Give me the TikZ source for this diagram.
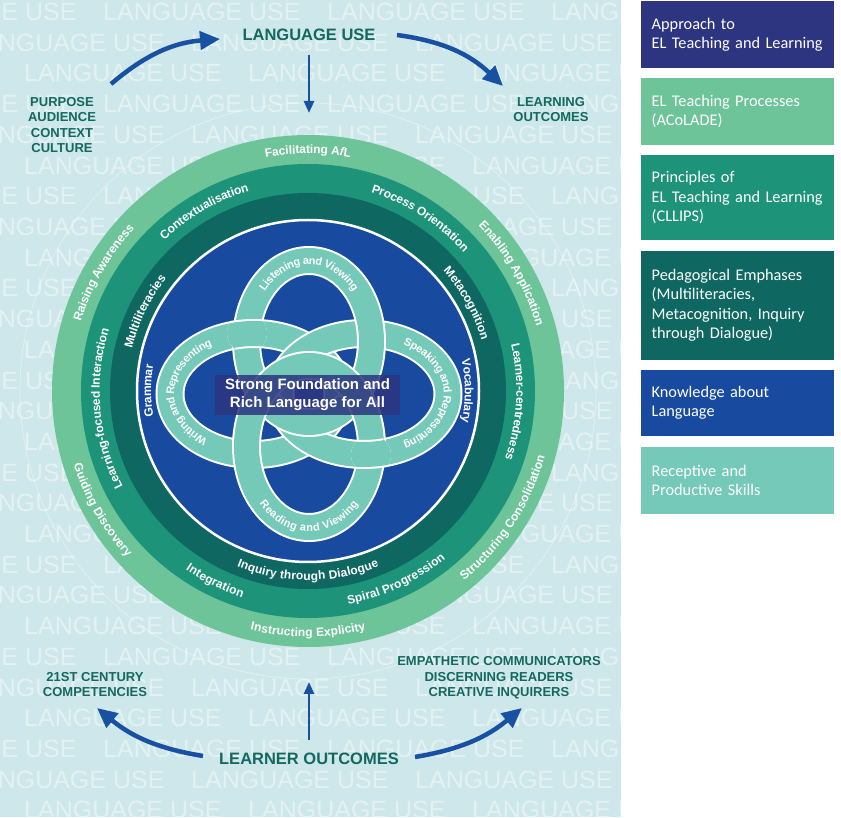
\documentclass[tikz,border=0pt]{standalone}
\usepackage{fontspec}
\setmainfont{Liberation Sans}
\newfontfamily\legendfont{Carlito}
\usetikzlibrary{arrows.meta, positioning, decorations.text}

\definecolor{panelbg}{RGB}{206, 231, 234}
\definecolor{ringlight}{RGB}{109, 196, 152}
\definecolor{ringmid}{RGB}{29, 147, 121}
\definecolor{ringdark}{RGB}{14, 103, 96}
\definecolor{discblue}{RGB}{24, 75, 160}
\definecolor{knotteal}{RGB}{117, 201, 184}
\definecolor{navy}{RGB}{45, 52, 128}
\definecolor{labelteal}{RGB}{19, 104, 96}
\definecolor{arrowblue}{RGB}{24, 80, 162}

\newcommand{\ringfont}{\bfseries\fontsize{12}{14}\selectfont}
\newcommand{\knotfont}{\bfseries\fontsize{11}{13}\selectfont}

\tikzset{
  bgword/.style={anchor=west, inner sep=0pt, text=white, text opacity=0.45, font=\fontsize{25}{25}\selectfont},
  headlbl/.style={text=labelteal, inner sep=0pt, font=\bfseries\fontsize{16.5}{18}\selectfont},
  sidelbl/.style={text=labelteal, inner sep=0pt, align=center, font=\bfseries\fontsize{13}{15.3}\selectfont},
  bigarrow/.style={draw=arrowblue, line width=4.5pt, -{Triangle[length=20pt, width=18pt]}},
  thinarrow/.style={draw=arrowblue, line width=2.5pt, -{Triangle[length=12pt, width=10pt]}},
  legbox/.style={anchor=north west, minimum width=193pt, text width=172pt, inner xsep=10.5pt, inner ysep=0pt,
    align=left, text=white, font=\legendfont\fontsize{16.3}{19.5}\selectfont},
  knotband/.style={draw=white, line width=29pt},
  knotfill/.style={draw=knotteal, line width=25pt},
  ringtext/.style={decorate, decoration={text along path, text align=center, text color=white, raise=-4.2pt, text={#1}}}
}

% text on the rings, clockwise (top) or counter-clockwise (bottom)
\newcommand{\ringcw}[3]{\path[ringtext={|\ringfont|#3}, shift={(c)}] (#1+75:#2) arc[start angle=#1+75, end angle=#1-75, radius=#2];}
\newcommand{\ringccw}[3]{\path[ringtext={|\ringfont|#3}, shift={(c)}] (#1-75:#2) arc[start angle=#1-75, end angle=#1+75, radius=#2];}

\begin{document}
\begin{tikzpicture}[x=1pt, y=1pt]
  \useasboundingbox (0,0) rectangle (841,817);

  % background panel with the repeated words
  \begin{scope}
    \clip (0,0) rectangle (621,817);
    \fill[panelbg] (0,0) rectangle (621,817);
    \foreach \r/\s in {0/103, 1/-33, 2/24}
      \foreach \j in {0,...,8}
        \foreach \i in {-1,...,3}
          \node[bgword] (bg-\r-\j-\i) at ({\s+224*\i}, {805-30.7*(3*\j+\r)}) {LANGUAGE USE};
  \end{scope}

  % rings
  \coordinate (c) at (308,426);
  \draw[white, opacity=0.4, line width=0.8pt] (c) circle[radius=288pt];
  \fill[ringlight] (c) circle[radius=256pt];
  \fill[ringmid] (c) circle[radius=227pt];
  \fill[ringdark] (c) circle[radius=198pt];
  \filldraw[fill=discblue, draw=white, line width=2.5pt] (c) circle[radius=171pt];

  % knot of four loops
  \coordinate (write) at (254,423);
  \coordinate (speak) at (364,423);
  \coordinate (listen) at (309,475.5);
  \coordinate (read) at (309,370.5);
  \foreach \lp/\rx/\ry in {write/84/60.5, speak/84/60.5, listen/62.5/81, read/62.5/81} {
    \draw[knotband] (\lp) ellipse[x radius=\rx pt, y radius=\ry pt];
    \draw[knotfill] (\lp) ellipse[x radius=\rx pt, y radius=\ry pt];
  }
  \begin{scope}
    \clip (247,484) circle[radius=20pt];
    \draw[knotband] (write) ellipse[x radius=84pt, y radius=60.5pt];
    \draw[knotfill] (write) ellipse[x radius=84pt, y radius=60.5pt];
  \end{scope}
  \begin{scope}
    \clip (371,362) circle[radius=20pt];
    \draw[knotband] (speak) ellipse[x radius=84pt, y radius=60.5pt];
    \draw[knotfill] (speak) ellipse[x radius=84pt, y radius=60.5pt];
  \end{scope}

  \path[ringtext={|\knotfont|Listening and Viewing}, shift={(listen)}]
    (180:62.5pt and 81pt) arc[start angle=180, end angle=0, x radius=62.5pt, y radius=81pt];
  \path[ringtext={|\knotfont|Reading and Viewing}, shift={(read)}]
    (180:62.5pt and 81pt) arc[start angle=180, end angle=360, x radius=62.5pt, y radius=81pt];
  \path[ringtext={|\knotfont|Writing and Representing}, shift={(write)}]
    (288:84pt and 60.5pt) arc[start angle=288, end angle=68, x radius=84pt, y radius=60.5pt];
  \path[ringtext={|\knotfont|Speaking and Representing}, shift={(speak)}]
    (112:84pt and 60.5pt) arc[start angle=112, end angle=-112, x radius=84pt, y radius=60.5pt];

  \node[fill=navy, fill opacity=0.85, text opacity=1, text=white, align=center, inner sep=0pt,
    minimum width=185pt, minimum height=40pt, font=\bfseries\fontsize{15}{18}\selectfont]
    (core) at (307.5,422) {Strong Foundation and\\Rich Language for All};

  % ACoLADE
  \ringcw{90}{241.5pt}{Facilitating A|\ringfont\itshape|f|\ringfont\upshape|L}
  \ringcw{30}{241.5pt}{Enabling Application}
  \ringccw{-33}{241.5pt}{Structuring Consolidation}
  \ringccw{-90}{241.5pt}{Instructing Explicity}
  \ringccw{210}{241.5pt}{Guiding Discovery}
  \ringcw{150}{241.5pt}{Raising Awareness}
  % CLLIPS
  \ringcw{57}{212.5pt}{Process Orientation}
  \ringcw{-3}{212.5pt}{Learner-centredness}
  \ringccw{-65}{212.5pt}{Spiral Progression}
  \ringccw{-116}{212.5pt}{Integration}
  \ringcw{185}{212.5pt}{Learning-focused Interaction}
  \ringcw{120}{212.5pt}{Contextualisation}
  % pedagogical emphases
  \ringcw{154}{185pt}{Multiliteracies}
  \ringcw{29}{185pt}{Metacognition}
  \ringccw{-90}{185pt}{Inquiry through Dialogue}
  % knowledge about language
  \ringcw{180}{161pt}{Grammar}
  \ringcw{0}{161pt}{Vocabulary}

  % labels and arrows
  \node[headlbl] (langUse) at (309,782) {LANGUAGE USE};
  \node[sidelbl] (purpose) at (62,692) {PURPOSE\\AUDIENCE\\CONTEXT\\CULTURE};
  \node[sidelbl] (learnOut) at (551,707.5) {LEARNING\\OUTCOMES};
  \node[sidelbl] (century) at (95,132.5) {21ST CENTURY\\COMPETENCIES};
  \node[sidelbl] (traits) at (499,139) {EMPATHETIC COMMUNICATORS\\DISCERNING READERS\\CREATIVE INQUIRERS};
  \node[headlbl] (learner) at (309,58) {LEARNER OUTCOMES};

  \coordinate (purposeOut) at (111,733);
  \coordinate (langIn) at (220,778);
  \coordinate (langOut) at (397,782);
  \coordinate (learnIn) at (503,731);
  \coordinate (langDown) at (309,762);
  \coordinate (ringTop) at (309,704);
  \coordinate (learnerUp) at (309,77);
  \coordinate (ringBottom) at (309,135);
  \coordinate (learnerLeft) at (203,61);
  \coordinate (centuryIn) at (97,109);
  \coordinate (learnerRight) at (415,60);
  \coordinate (traitsIn) at (522,109);

  \draw[bigarrow] (purposeOut) to[bend left=18] (langIn);
  \draw[bigarrow] (langOut) to[bend left=18] (learnIn);
  \draw[thinarrow] (langDown) -- (ringTop);
  \draw[thinarrow] (learnerUp) -- (ringBottom);
  \draw[bigarrow] (learnerLeft) to[bend left=15] (centuryIn);
  \draw[bigarrow] (learnerRight) to[bend right=15] (traitsIn);

  % legend
  \node[legbox, fill=navy, minimum height=67pt] (approach) at (641,816) {Approach to\\EL Teaching and Learning};
  \node[legbox, fill=ringlight, minimum height=67pt, below=9.5pt of approach] (acolade) {EL Teaching Processes\\(ACoLADE)};
  \node[legbox, fill=ringmid, minimum height=85pt, below=9.5pt of acolade] (cllips) {Principles of\\EL Teaching and Learning\\(CLLIPS)};
  \node[legbox, fill=ringdark, minimum height=109pt, below=10.5pt of cllips] (emphases) {Pedagogical Emphases\\(Multiliteracies,\\Metacognition, Inquiry\\through Dialogue)};
  \node[legbox, fill=discblue, minimum height=66pt, below=9.5pt of emphases] (kal) {Knowledge about\\Language};
  \node[legbox, fill=knotteal, minimum height=67pt, below=10.5pt of kal] (skills) {Receptive and\\Productive Skills};
\end{tikzpicture}
\end{document}
